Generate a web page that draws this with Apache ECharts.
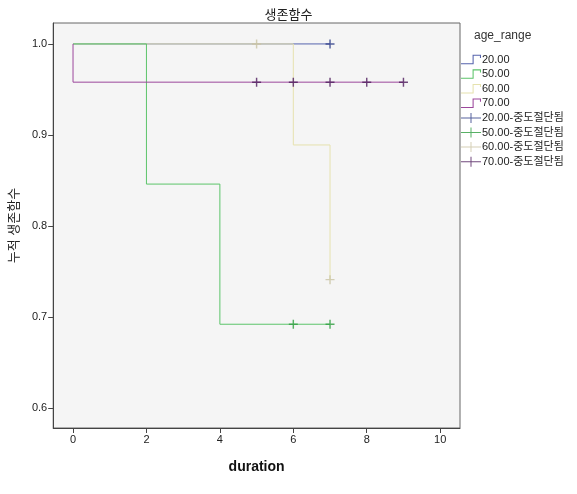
<!DOCTYPE html>
<html>
<head>
<meta charset="utf-8">
<script src="https://cdn.jsdelivr.net/npm/echarts@6/dist/echarts.min.js"></script>
<style>
html,body{margin:0;padding:0;background:#fff;}
#chart{width:577px;height:494px;}
</style>
</head>
<body>
<div id="chart"></div>
<script>
// ---- data ----
const groupNames = ['20.00', '50.00', '60.00', '70.00'];
const censorNames = ['20.00-중도절단됨', '50.00-중도절단됨', '60.00-중도절단됨', '70.00-중도절단됨'];
// step survival curves (time, survival after time)
const t20 = [0, 7];          const s20 = [1.0, 1.0];
const t50 = [0, 2, 4, 7];    const s50 = [1.0, 0.846, 0.692, 0.692];
const t60 = [0, 6, 7];       const s60 = [1.0, 0.889, 0.741];
const t70 = [0, 0, 9];       const s70 = [1.0, 0.958, 0.958];
// censored observations
const c20t = [7];             const c20s = [1.0];
const c50t = [6, 7];          const c50s = [0.692, 0.692];
const c60t = [5, 7];          const c60s = [1.0, 0.741];
const c70t = [5, 6, 7, 8, 9]; const c70s = [0.958, 0.958, 0.958, 0.958, 0.958];
const xTicks = [0, 2, 4, 6, 8, 10];
const yTicks = [0.6, 0.7, 0.8, 0.9, 1.0];

const lineColors = ['#5563ad', '#5cc46a', '#e6e2ae', '#9c479c'];
const censorColors = ['#2b3a86', '#2e9e3e', '#c9c3a2', '#4d1c5c'];

const zip = (a, b) => a.map((v, i) => [v, b[i]]);
const curves = [zip(t20, s20), zip(t50, s50), zip(t60, s60), zip(t70, s70)];
const censors = [zip(c20t, c20s), zip(c50t, c50s), zip(c60t, c60s), zip(c70t, c70s)];

const plusPath = 'path://M4.2,0 L5.8,0 L5.8,4.2 L10,4.2 L10,5.8 L5.8,5.8 L5.8,10 L4.2,10 L4.2,5.8 L0,5.8 L0,4.2 L4.2,4.2 Z';
const stepIcon = 'path://M0,9 L11,9 L11,1 L19,1 L19,4 L18,4 L18,2 L12,2 L12,10 L0,10 Z';
const censorIcon = 'path://M0,4.5 L9.5,4.5 L9.5,0 L10.5,0 L10.5,4.5 L20,4.5 L20,5.5 L10.5,5.5 L10.5,10 L9.5,10 L9.5,5.5 L0,5.5 Z';

const FONT = '"Liberation Sans", Arial, "Noto Sans CJK KR", sans-serif';
const z = [1, 3, 2, 4];

const series = [];
groupNames.forEach((n, i) => {
  series.push({
    name: n, type: 'line', step: 'end', data: curves[i],
    showSymbol: false, symbol: 'none', z: z[i],
    lineStyle: { color: lineColors[i], width: 1 },
    itemStyle: { color: lineColors[i] },
    animation: false
  });
});
censorNames.forEach((n, i) => {
  series.push({
    name: n, type: 'scatter', data: censors[i],
    symbol: plusPath, symbolSize: 9, z: 10,
    itemStyle: { color: censorColors[i] },
    animation: false
  });
});

const legendData = groupNames.map(n => ({ name: n, icon: stepIcon }))
  .concat(censorNames.map(n => ({ name: n, icon: censorIcon })));

const chart = echarts.init(document.getElementById('chart'), null, { renderer: 'canvas' });
chart.setOption({
  backgroundColor: '#ffffff',
  animation: false,
  textStyle: { fontFamily: FONT },
  title: {
    text: '생존함수', left: 'center', top: 4,
    textStyle: { fontSize: 13, fontWeight: 'normal', color: '#222', fontFamily: FONT }
  },
  grid: {
    left: 50, right: 117, top: 23, bottom: 66,
    show: true, backgroundColor: '#f5f5f5', borderColor: '#666', borderWidth: 1
  },
  legend: {
    orient: 'vertical', left: 461, top: 54, padding: 0,
    itemWidth: 20, itemHeight: 10, itemGap: 3.6,
    data: legendData,
    itemStyle: { borderWidth: 0 },
    textStyle: { fontSize: 11, color: '#222', fontFamily: FONT, padding: [0, 0, 0, -4] },
    selectedMode: false
  },
  graphic: [{
    type: 'text', left: 474, top: 30,
    style: { text: 'age_range', font: '12px ' + FONT, fill: '#333' }
  }],
  xAxis: {
    type: 'value', min: -0.54, max: 10.54,
    name: 'duration', nameLocation: 'middle', nameGap: 32,
    nameTextStyle: { fontSize: 14, fontWeight: 'bold', color: '#111', fontFamily: FONT },
    axisLine: { show: true, onZero: false, lineStyle: { color: '#444' } },
    axisTick: { show: true, length: 5, inside: false, customValues: xTicks, lineStyle: { color: '#444' } },
    axisLabel: { customValues: xTicks, fontSize: 11, color: '#222', margin: 6, fontFamily: FONT },
    splitLine: { show: false }
  },
  yAxis: {
    type: 'value', min: 0.578, max: 1.023,
    name: '누적 생존함수', nameLocation: 'middle', nameGap: 32, nameRotate: 90,
    nameTextStyle: { fontSize: 13, color: '#222', fontFamily: FONT },
    axisLine: { show: true, onZero: false, lineStyle: { color: '#444' } },
    axisTick: { show: true, length: 5, inside: false, customValues: yTicks, lineStyle: { color: '#444' } },
    axisLabel: { customValues: yTicks, fontSize: 11, color: '#222', margin: 6, fontFamily: FONT,
      formatter: v => v.toFixed(1) },
    splitLine: { show: false }
  },
  series: series
});
</script>
</body>
</html>
